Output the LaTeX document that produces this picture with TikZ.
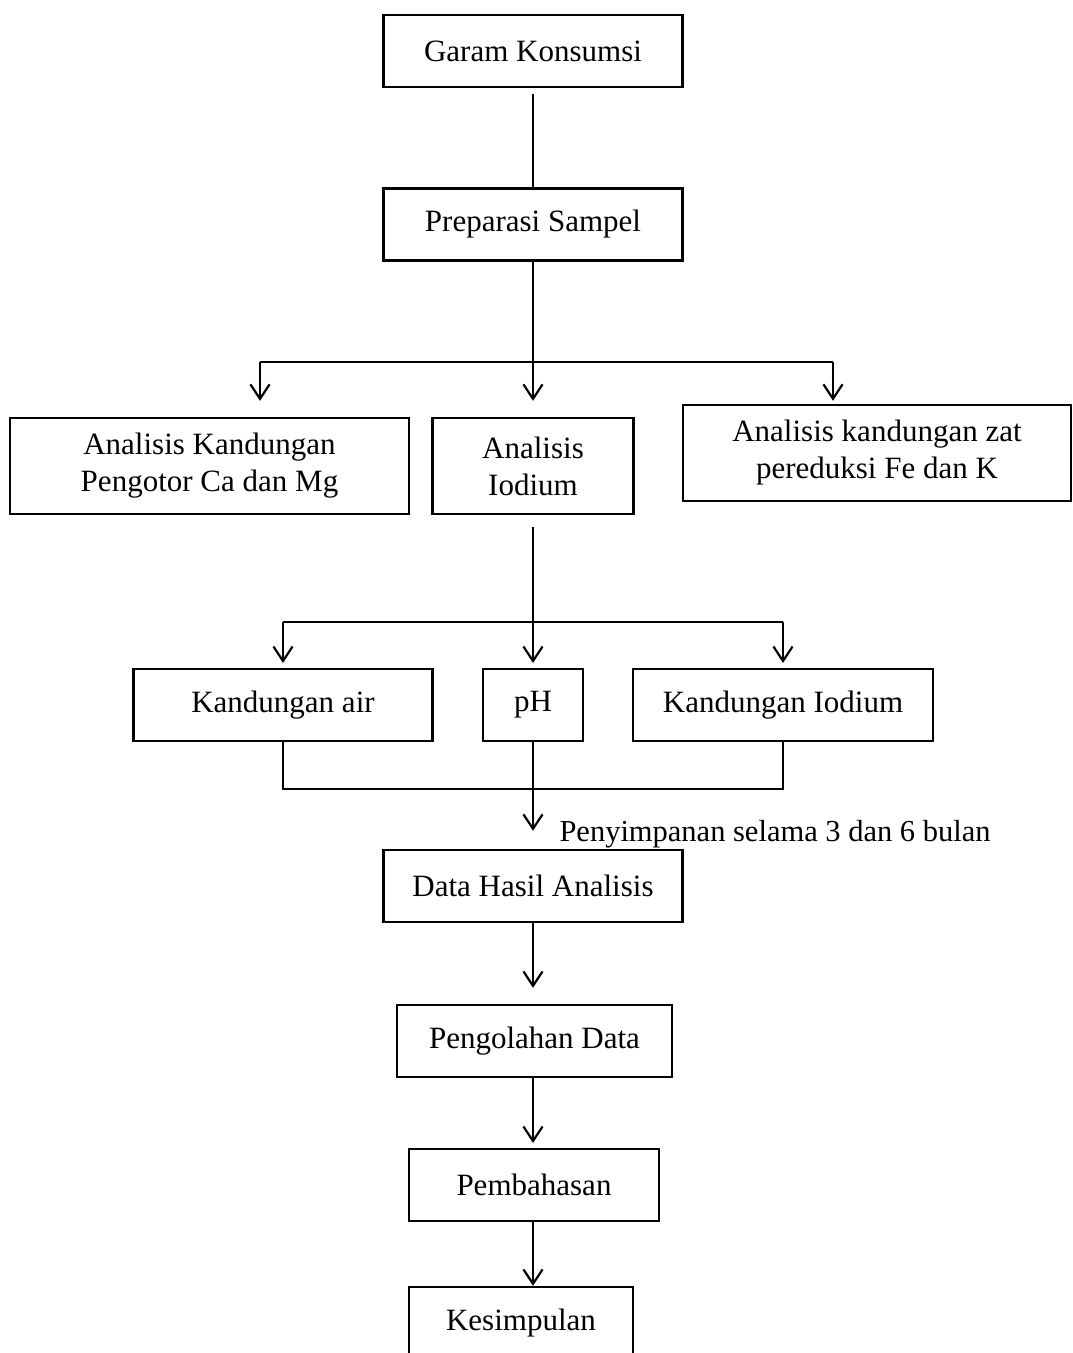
\documentclass[tikz,border=0pt]{standalone}
\usepackage{fontspec}
\setmainfont{Liberation Serif}
\usepackage{tikz}
\usetikzlibrary{calc,arrows.meta,positioning}

\begin{document}
\begin{tikzpicture}[x=0.387pt,y=-0.387pt,
     bx/.style={draw,line width=0.85pt,inner sep=0pt,minimum height=27.9pt,align=center,
       font=\fontsize{12}{14.3}\selectfont},
     ln/.style={line width=0.85pt},
     arr/.style={line width=0.85pt,-{Straight Barb[length=5.6pt,width=7.4pt,line width=0.85pt]}}]
   \useasboundingbox (0,0) rectangle (1073,1353);
   \node[bx,minimum width=115.7pt] (garam) at (533,51) {Garam Konsumsi};
   \node[bx,minimum width=115.7pt] (prep) at (533,224.5) {Preparasi Sampel};
   \node[bx,minimum width=154.4pt,minimum height=37.2pt] (camg) at (209.5,466) {Analisis Kandungan\\Pengotor Ca dan Mg};
   \node[bx,minimum width=77.8pt,minimum height=37.2pt] (iod) at (533,466) {Analisis\\Iodium};
   \node[bx,minimum width=150.2pt,minimum height=37.2pt] (fek) at (877,453) {Analisis kandungan zat\\pereduksi Fe dan K};
   \node[bx,minimum width=115.7pt] (air) at (283,705) {Kandungan air};
   \node[bx,minimum width=38.7pt] (ph) at (533,705) {pH};
   \node[bx,minimum width=116.1pt] (iodk) at (783,705) {Kandungan Iodium};
   \node[bx,minimum width=115.7pt] (data) at (533,886) {Data Hasil Analisis};
   \node[bx,minimum width=106.4pt] (olah) at (534.5,1041) {Pengolahan Data};
   \node[bx,minimum width=96.75pt] (bahas) at (534,1185) {Pembahasan};
   \node[bx,minimum width=86.7pt] (simpul) at (521,1323) {Kesimpulan};
   \node[anchor=base west,inner sep=0pt,font=\fontsize{11.8}{14.3}\selectfont] (simpan) at (559,841) {Penyimpanan selama 3 dan 6 bulan};

   \coordinate (s1) at (533,362); \coordinate (s1l) at (260,362); \coordinate (s1r) at (833,362);
   \coordinate (s2) at (533,622); \coordinate (s2l) at (283,622); \coordinate (s2r) at (783,622);
   \coordinate (m1l) at (283,789); \coordinate (m1r) at (783,789);

   \draw[ln,shorten <=2.3pt] (garam) -- (prep);
   \draw[ln] (prep) -- (s1);
   \draw[ln] (s1l) -- (s1r);
   \draw[arr,shorten >=6.2pt] (s1l) -- (s1l |- camg.north);
   \draw[arr,shorten >=6.2pt] (s1) -- (iod.north);
   \draw[arr,shorten >=1.2pt] (s1r) -- (s1r |- fek.north);

   \draw[ln,shorten <=4.6pt] (iod) -- (s2);
   \draw[ln] (s2l) -- (s2r);
   \draw[arr,shorten >=1.9pt] (s2l) -- (air.north);
   \draw[arr,shorten >=1.9pt] (s2) -- (ph.north);
   \draw[arr,shorten >=1.9pt] (s2r) -- (iodk.north);

   \draw[ln] (air.south) -- (m1l) -- (m1r) -- (iodk.south);
   \draw[arr,shorten >=7pt] (ph.south) -- (ph.south |- data.north);
   \draw[arr,shorten >=6.2pt] (data.south) -- (data.south |- olah.north);
   \draw[arr,shorten >=1.9pt] (data.south |- olah.south) -- (data.south |- bahas.north);
   \draw[arr] (data.south |- bahas.south) -- (data.south |- simpul.north);
\end{tikzpicture}
\end{document}
